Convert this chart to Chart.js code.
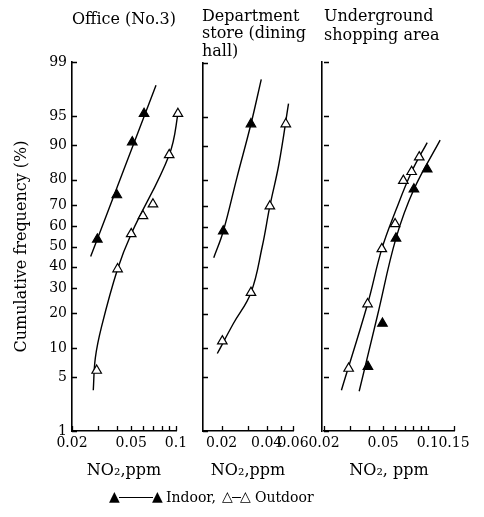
<!DOCTYPE html>
<html><head><meta charset="utf-8">
<script src="https://cdn.jsdelivr.net/npm/chart.js@4/dist/chart.umd.min.js"></script>
<style>
html,body{margin:0;padding:0;background:#fff;}
#wrap{position:relative;width:484px;height:517px;overflow:hidden;background:#fff;}
#wrap canvas{position:absolute;left:0;top:0;}
.lg{position:absolute;font-family:'DejaVu Serif';color:#000;white-space:nowrap;line-height:1;font-size:14px;}
.tri{position:absolute;font-family:'DejaVu Sans';font-size:14px;color:#000;line-height:1;}
.ln{position:absolute;height:0;border-top:1.4px solid #000;}
</style></head><body>
<div id="wrap">
<canvas id="c1" width="484" height="517"></canvas>
<canvas id="c2" width="484" height="517"></canvas>
<canvas id="c3" width="484" height="517"></canvas>
<span class="tri" style="left:109px;top:489px">▲</span>
<span class="ln" style="left:119px;width:34px;top:497px"></span>
<span class="tri" style="left:152px;top:489px">▲</span>
<span class="lg" style="left:166px;top:490px">Indoor,</span>
<span class="tri" style="left:222px;top:489px">△</span>
<span class="ln" style="left:232px;width:9px;top:497px"></span>
<span class="tri" style="left:240px;top:489px">△</span>
<span class="lg" style="left:255px;top:490px">Outdoor</span>
</div>
<script>
// ---- data (NO2 ppm, cumulative frequency %) ----
const probTicks = [1,5,10,20,30,40,50,60,70,80,90,95,99];

// Office (No.3)
const officeIndoorPoints  = [[0.0296,53.6],[0.040,74.2],[0.0508,90.6],[0.061,95.3]];
const officeIndoorCurve   = [[0.0267,45],[0.0443,83],[0.0734,97.9]];
const officeOutdoorPoints = [[0.0293,5.9],[0.0405,38.8],[0.050,56.3],[0.060,65],[0.070,70.3],[0.090,87.6],[0.103,95.3]];
const officeOutdoorCurve  = [[0.0278,3.5],[0.0287,8],[0.0316,15.6],[0.0405,38.8],[0.050,56.3],[0.090,87.6],[0.103,95.3],[0.106,97.3]];
const officeXTicks  = [0.02,0.03,0.04,0.05,0.06,0.07,0.08,0.09,0.1];
const officeXLabels = [0.02,0.05,0.1];

// Department store (dining hall)
const deptIndoorPoints  = [[0.0205,57.9],[0.0314,94.0]];
const deptIndoorCurve   = [[0.0177,44.6],[0.0205,57.9],[0.0253,81],[0.0314,94.0],[0.0368,98.3]];
const deptOutdoorPoints = [[0.0202,11.7],[0.0314,28.2],[0.042,69.7],[0.0537,94.0]];
const deptOutdoorCurve  = [[0.0187,8.9],[0.0239,16.6],[0.0314,28.2],[0.0373,50],[0.042,69.7],[0.0483,85.3],[0.056,96.5]];
const deptXTicks  = [0.02,0.03,0.04,0.05,0.06];
const deptXLabels = [0.02,0.04,0.06];

// Underground shopping area
const ugIndoorPoints  = [[0.0395,6.5],[0.0495,16.6],[0.061,54.1],[0.0806,76.5],[0.099,83.5]];
const ugIndoorCurve   = [[0.0345,3.4],[0.0459,19.4],[0.061,54.1],[0.0806,76.5],[0.121,91]];
const ugOutdoorPoints = [[0.0293,6.2],[0.0393,23.4],[0.049,48.8],[0.0602,61.2],[0.0684,79.7],[0.0778,82.7],[0.0875,87.0]];
const ugOutdoorCurve  = [[0.0262,3.5],[0.0393,23.4],[0.049,48.8],[0.061,67.7],[0.0778,82.7],[0.099,90.5]];
const ugXTicks  = [0.02,0.03,0.04,0.05,0.06,0.07,0.08,0.09,0.1,0.15];
const ugXLabels = [0.02,0.05,0.1,0.15];

// ---- normal probability scale ----
function probit(p){
  const a=[-3.969683028665376e+01,2.209460984245205e+02,-2.759285104469687e+02,1.383577518672690e+02,-3.066479806614716e+01,2.506628277459239e+00];
  const b=[-5.447609879822406e+01,1.615858368580409e+02,-1.556989798598866e+02,6.680131188771972e+01,-1.328068155288572e+01];
  const c=[-7.784894002430293e-03,-3.223964580411365e-01,-2.400758277161838e+00,-2.549732539343734e+00,4.374664141464968e+00,2.938163982698783e+00];
  const d=[7.784695709041462e-03,3.224671290700398e-01,2.445134137142996e+00,3.754408661907416e+00];
  const pl=0.02425, ph=1-pl; let q,r;
  if(p<pl){q=Math.sqrt(-2*Math.log(p));return (((((c[0]*q+c[1])*q+c[2])*q+c[3])*q+c[4])*q+c[5])/((((d[0]*q+d[1])*q+d[2])*q+d[3])*q+1);}
  if(p<=ph){q=p-0.5;r=q*q;return (((((a[0]*r+a[1])*r+a[2])*r+a[3])*r+a[4])*r+a[5])*q/(((((b[0]*r+b[1])*r+b[2])*r+b[3])*r+b[4])*r+1);}
  q=Math.sqrt(-2*Math.log(1-p));return -(((((c[0]*q+c[1])*q+c[2])*q+c[3])*q+c[4])*q+c[5])/((((d[0]*q+d[1])*q+d[2])*q+d[3])*q+1);
}
class ProbitScale extends Chart.LinearScale {
  determineDataLimits(){ this.min = this.options.min; this.max = this.options.max; }
  _z(v){ return probit(v/100); }
  getPixelForValue(v){
    const a=this._z(this.min), b=this._z(this.max);
    return this.getPixelForDecimal((this._z(v)-a)/(b-a));
  }
  getValueForPixel(px){
    const a=this._z(this.min), b=this._z(this.max);
    const z=a+this.getDecimalForPixel(px)*(b-a);
    let lo=0.0001, hi=99.9999;
    for(let i=0;i<50;i++){const m=(lo+hi)/2; if(this._z(m)<z) lo=m; else hi=m;}
    return (lo+hi)/2;
  }
}
ProbitScale.id='probit';
ProbitScale.defaults=Chart.LinearScale.defaults;
Chart.register(ProbitScale);

Chart.defaults.font.family="'DejaVu Serif'";
Chart.defaults.color='#000';

const inwardTicks = {
  id:'inwardTicks',
  afterDraw(chart){
    const ctx=chart.ctx, ca=chart.chartArea, xs=chart.scales.x, ys=chart.scales.y;
    ctx.save(); ctx.strokeStyle='#000'; ctx.lineWidth=1.3;
    ctx.beginPath();
    xs.ticks.forEach(t=>{const px=Math.round(xs.getPixelForValue(t.value))+0.5; ctx.moveTo(px,ca.bottom); ctx.lineTo(px,ca.bottom-5);});
    ys.ticks.forEach(t=>{const py=Math.round(ys.getPixelForValue(t.value))+0.5; ctx.moveTo(ca.left,py); ctx.lineTo(ca.left+5,py);});
    ctx.stroke(); ctx.restore();
  }
};

const xy = pts => pts.map(([x,y])=>({x,y}));
function curveDS(pts){
  return {data:xy(pts),borderColor:'#000',borderWidth:1.4,pointRadius:0,fill:false,
          tension:0.4,clip:false};
}
function markDS(pts,filled){
  return {data:xy(pts),showLine:false,pointStyle:'triangle',pointRadius:5.5,
          pointBackgroundColor:filled?'#000':'#fff',pointBorderColor:'#000',pointBorderWidth:1.2,clip:false};
}

function makeChart(id,cfg){
  const xLabels=cfg.xLabels;
  return new Chart(document.getElementById(id),{
    type:'line',
    data:{datasets:[markDS(cfg.inPts,true),markDS(cfg.outPts,false),curveDS(cfg.inCurve),curveDS(cfg.outCurve)]},
    options:{
      responsive:false,animation:false,devicePixelRatio:1,
      layout:{padding:cfg.padding},
      plugins:{
        legend:{display:false},tooltip:{enabled:false},
        title:{display:true,text:cfg.title,fullSize:cfg.titleFull,align:cfg.titleAlign,color:'#000',
               font:{size:16,family:"'DejaVu Serif'",weight:'normal',lineHeight:cfg.titleLH},
               padding:cfg.titlePad}
      },
      scales:{
        x:{type:'logarithmic',min:cfg.xMin,max:cfg.xMax,
           grid:{display:false,drawTicks:false},border:{display:true,color:'#000',width:1.6},
           afterBuildTicks:s=>{s.ticks=cfg.xTicks.map(v=>({value:v}));},
           afterFit:s=>{s.height=86;},
           ticks:{autoSkip:false,maxRotation:0,minRotation:0,padding:4,align:'center',
                  font:{size:14},callback:v=>xLabels.includes(v)?String(v):''},
           title:{display:true,text:cfg.xTitle,font:{size:16},padding:{top:0,bottom:37}}},
        y:{type:'probit',min:1,max:99,
           grid:{display:false,drawTicks:false},border:{display:true,color:'#000',width:1.6},
           afterBuildTicks:s=>{s.ticks=probTicks.map(v=>({value:v}));},
           afterFit:s=>{s.width=cfg.yWidth;},
           ticks:{display:cfg.yLabels,padding:5,font:{size:14},callback:v=>String(v)},
           title:{display:!!cfg.yTitle,text:cfg.yTitle||'',font:{size:16},padding:{top:12,bottom:0}}},
        spacer:{type:'linear',position:'right',display:true,
           grid:{display:false,drawTicks:false},border:{display:false},
           ticks:{display:false},afterFit:s=>{s.width=cfg.rightSpace;}}
      }
    },
    plugins:[inwardTicks]
  });
}

makeChart('c1',{
  inPts:officeIndoorPoints,outPts:officeOutdoorPoints,inCurve:officeIndoorCurve,outCurve:officeOutdoorCurve,
  xMin:0.02,xMax:0.1,xTicks:officeXTicks,xLabels:officeXLabels,xTitle:'NO₂,ppm',
  title:'Office (No.3)',titleFull:false,titleAlign:'center',titleLH:'17px',titlePad:{top:11,bottom:34},
  padding:{left:0,right:0,top:0,bottom:0},rightSpace:308,yWidth:72,yLabels:true,yTitle:'Cumulative frequency (%)'
});
makeChart('c2',{
  inPts:deptIndoorPoints,outPts:deptOutdoorPoints,inCurve:deptIndoorCurve,outCurve:deptOutdoorCurve,
  xMin:0.015,xMax:0.06,xTicks:deptXTicks,xLabels:deptXLabels,xTitle:'NO₂,ppm',
  title:['Department','store (dining','hall)'],titleFull:true,titleAlign:'start',titleLH:'17.5px',titlePad:{top:8,bottom:2.5},
  padding:{left:202,right:0,top:0,bottom:0},rightSpace:191,yWidth:1,yLabels:false
});
makeChart('c3',{
  inPts:ugIndoorPoints,outPts:ugOutdoorPoints,inCurve:ugIndoorCurve,outCurve:ugOutdoorCurve,
  xMin:0.02,xMax:0.15,xTicks:ugXTicks,xLabels:ugXLabels,xTitle:'NO₂, ppm',
  title:['Underground','shopping area'],titleFull:true,titleAlign:'start',titleLH:'19px',titlePad:{top:7.5,bottom:16.5},
  padding:{left:324,right:0,top:0,bottom:0},rightSpace:30,yWidth:-2,yLabels:false
});
</script>
</body></html>
